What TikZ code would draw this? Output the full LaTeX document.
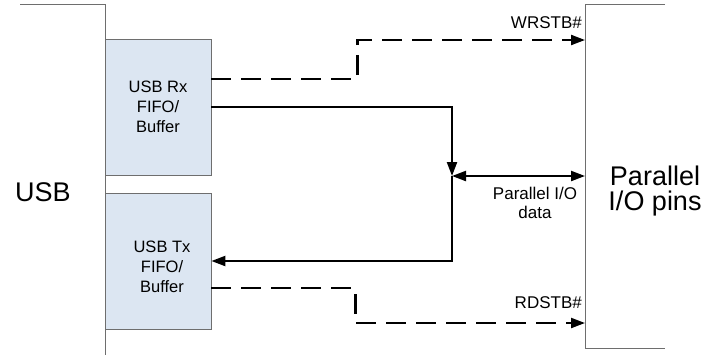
\documentclass[tikz,border=0pt]{standalone}
\usepackage{fontspec}
\setmainfont{Liberation Sans}
\usetikzlibrary{arrows.meta}
\definecolor{fifofill}{HTML}{DCE6F2}
\definecolor{edgegray}{HTML}{6E6E6E}

\begin{document}
\begin{tikzpicture}[x=1pt,y=-1pt,
    fifo/.style={draw=edgegray, line width=0.8pt, fill=fifofill, minimum width=106pt, minimum height=136pt, inner sep=0pt},
    txt/.style={align=center, inner sep=0pt, font=\fontsize{16.5}{20}\selectfont},
    lbl/.style={align=center, inner sep=0pt, font=\fontsize{17}{19}\selectfont},
    big/.style={align=center, inner sep=0pt, font=\fontsize{27}{25}\selectfont},
    bus/.style={line width=2.2pt},
    strobe/.style={line width=2.2pt, dash pattern=on 20pt off 10pt},
    tip/.style={-{Triangle[length=14pt,width=10pt]}}]
    \useasboundingbox (0,0) rectangle (708,362);

    % usb side and pin side
    \draw[edgegray, line width=0.8pt] (20,4) -- (105,4) -- (105,355);
    \draw[edgegray, line width=0.8pt] (665,4) -- (585,4) -- (585,348) -- (665,348);
    \node[big] (usb) at (43,192) {USB};
    \node[big] (pio) at (655,191) {Parallel\\I/O pins};

    % fifos
    \node[fifo] (rx) at (158,107) {};
    \node[txt] (rxt) at (158,107) {USB Rx\\FIFO/\\Buffer};
    \node[fifo] (tx) at (158,261) {};
    \node[txt] (txt) at (162,267) {USB Tx\\FIFO/\\Buffer};

    \coordinate (wr) at (585,40);
    \coordinate (rd) at (585,323);
    \coordinate (pd) at (585,176);
    \coordinate (jn) at (452,176);

    % strobes
    \draw[strobe, tip] ([yshift=28pt]rx.east) -- ++(146,0) |- (wr);
    \node[lbl, anchor=base east] (wrl) at (582,28) {WRSTB\#};
    \draw[strobe, tip] ([yshift=-27pt]tx.east) -- ++(144,0) |- (rd);
    \node[lbl, anchor=base east] (rdl) at (582,308) {RDSTB\#};

    % data
    \draw[bus, tip] (rx.east) -| (jn);
    \draw[bus, {Triangle[length=14pt,width=10pt]}-{Triangle[length=14pt,width=10pt]}] (jn) -- (pd);
    \draw[bus, tip] (jn) |- (tx.east);
    \node[lbl] (pdl) at (535,203) {Parallel I/O\\data};
\end{tikzpicture}
\end{document}
